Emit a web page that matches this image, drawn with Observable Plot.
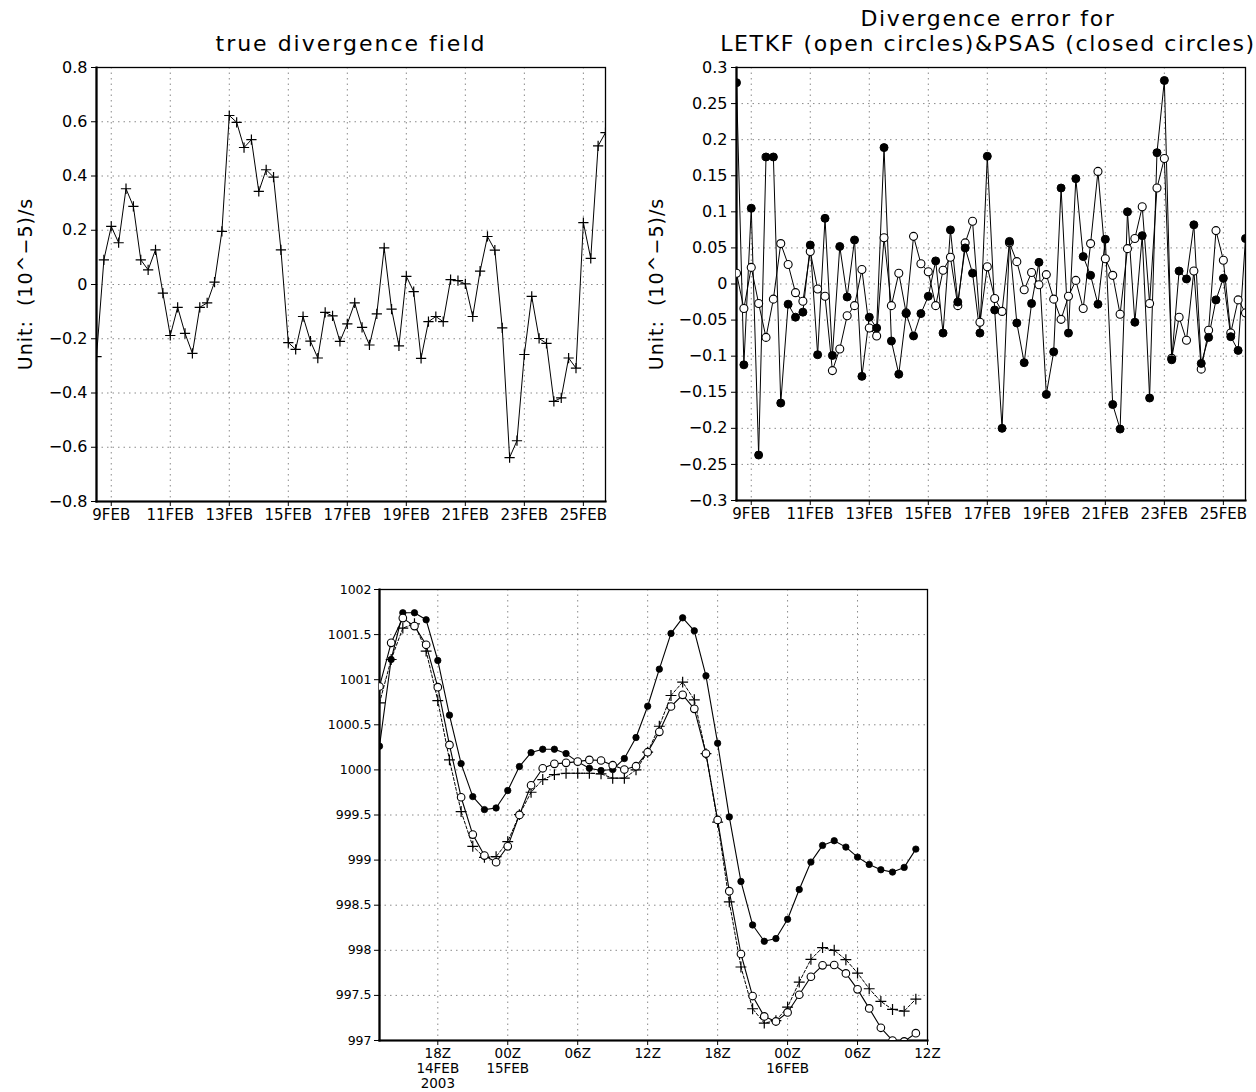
<!DOCTYPE html>
<html><head><meta charset="utf-8">
<script src="https://cdn.jsdelivr.net/npm/d3@7"></script>
<script src="https://cdn.jsdelivr.net/npm/@observablehq/plot@0.6"></script>
<style>
body{margin:0;background:#fff;width:1256px;height:1092px;position:relative;overflow:hidden;font-family:"DejaVu Sans",sans-serif;}
.panel{position:absolute;}
.title{position:absolute;text-align:center;font-size:22px;letter-spacing:1.6px;line-height:25px;color:#000;white-space:pre;transform:translateX(-50%);}
.ylab{position:absolute;font-size:19px;letter-spacing:1px;white-space:pre;color:#000;transform:translate(-50%,-50%) rotate(-90deg);}
</style></head><body>
<div id="p1" class="panel" style="left:0;top:0"></div>
<div id="p2" class="panel" style="left:630px;top:0"></div>
<div id="p3" class="panel" style="left:300px;top:570px"></div>
<div class="title" style="left:351px;top:31px;letter-spacing:2px">true divergence field</div>
<div class="title" style="left:988px;top:6px">Divergence error for
LETKF (open circles)&amp;PSAS (closed circles)</div>
<div class="ylab" style="left:25px;top:284px">Unit:  (10^−5)/s</div>
<div class="ylab" style="left:656px;top:284px">Unit:  (10^−5)/s</div>
<script>
// ---------- data ----------
const startTop = Date.UTC(2003, 1, 8, 12);   // 8FEB 12Z, 6-hourly samples
const endTop = Date.UTC(2003, 1, 25, 18);
const trueDivergence = [-0.266,0.091,0.214,0.154,0.353,0.288,0.091,0.054,0.128,-0.032,
 -0.188,-0.084,-0.180,-0.254,-0.084,-0.068,0.009,0.196,0.623,0.598,
 0.505,0.534,0.343,0.423,0.396,0.128,-0.214,-0.239,-0.118,-0.209,
 -0.271,-0.103,-0.116,-0.210,-0.145,-0.068,-0.158,-0.223,-0.108,0.135,
 -0.091,-0.226,0.030,-0.026,-0.272,-0.137,-0.118,-0.137,0.018,0.014,
 0.002,-0.118,0.049,0.177,0.127,-0.160,-0.638,-0.576,-0.258,-0.044,
 -0.199,-0.217,-0.431,-0.418,-0.271,-0.308,0.228,0.096,0.511,0.560];
const psasError = [0.279,-0.112,0.105,-0.237,0.176,0.176,-0.165,-0.028,-0.046,-0.039,
 0.054,-0.098,0.091,-0.099,0.052,-0.018,0.061,-0.128,-0.046,-0.061,
 0.189,-0.079,-0.125,-0.041,-0.072,-0.041,-0.017,0.032,-0.068,0.075,
 -0.025,0.050,0.015,-0.068,0.177,-0.036,-0.200,0.059,-0.054,-0.109,
 -0.027,0.030,-0.153,-0.094,0.133,-0.068,0.146,0.038,0.012,-0.028,
 0.062,-0.167,-0.201,0.100,-0.053,0.067,-0.158,0.182,0.282,-0.105,
 0.018,0.007,0.082,-0.110,-0.074,-0.022,0.008,-0.073,-0.092,0.063];
const letkfError = [0.015,-0.034,0.023,-0.027,-0.074,-0.021,0.056,0.027,-0.012,-0.024,
 0.045,-0.007,-0.017,-0.120,-0.090,-0.044,-0.030,0.020,-0.061,-0.072,
 0.064,-0.030,0.015,-0.040,0.066,0.028,0.017,-0.030,0.019,0.037,
 -0.030,0.057,0.087,-0.053,0.024,-0.020,-0.038,0.057,0.031,-0.008,
 0.016,-0.001,0.013,-0.021,-0.049,-0.017,0.005,-0.034,0.056,0.156,
 0.035,0.012,-0.042,0.049,0.063,0.107,-0.027,0.133,0.174,-0.103,
 -0.046,-0.078,0.018,-0.118,-0.064,0.074,0.033,-0.068,-0.022,-0.040];
const topTickDays = [9,11,13,15,17,19,21,23,25];
const topTickLabels = ["9FEB","11FEB","13FEB","15FEB","17FEB","19FEB","21FEB","23FEB","25FEB"];
const leftYTicks = [-0.8,-0.6,-0.4,-0.2,0,0.2,0.4,0.6,0.8];
const leftYLabels = ["−0.8","−0.6","−0.4","−0.2","0","0.2","0.4","0.6","0.8"];
const rightYTicks = [-0.3,-0.25,-0.2,-0.15,-0.1,-0.05,0,0.05,0.1,0.15,0.2,0.25,0.3];
const rightYLabels = ["−0.3","−0.25","−0.2","−0.15","−0.1","−0.05","0","0.05","0.1","0.15","0.2","0.25","0.3"];

const startBottom = Date.UTC(2003, 1, 14, 13);  // 14FEB 13Z, hourly samples
const endBottom = Date.UTC(2003, 1, 16, 12);
const pressClosed = [1000.263,1001.224,1001.742,1001.742,1001.664,1001.213,1000.607,1000.070,999.704,999.560,999.578,
 999.771,1000.037,1000.192,1000.229,1000.229,1000.181,1000.089,1000.018,999.993,1000.004,1000.126,1000.359,
 1000.706,1001.117,1001.513,1001.686,1001.542,1001.043,1000.296,999.479,998.763,998.281,998.100,998.130,
 998.344,998.674,998.978,999.163,999.215,999.144,999.033,998.952,998.893,998.867,998.919,999.122];
const pressOpen = [1000.925,1001.409,1001.683,1001.594,1001.387,1000.917,1000.277,999.697,999.283,999.050,998.976,
 999.153,999.501,999.830,1000.018,1000.067,1000.078,1000.092,1000.111,1000.104,1000.052,1000.004,1000.041,
 1000.196,1000.422,1000.703,1000.832,1000.677,1000.181,999.445,998.656,997.959,997.493,997.267,997.211,
 997.311,997.507,997.707,997.833,997.837,997.744,997.567,997.356,997.141,997.000,996.990,997.081];
const pressPlus = [1000.743,1001.224,1001.572,1001.620,1001.317,1000.769,1000.111,999.538,999.153,999.031,999.038,
 999.205,999.504,999.752,999.893,999.948,999.963,999.963,999.963,999.956,999.908,999.908,1000.000,
 1000.196,1000.484,1000.825,1000.973,1000.777,1000.180,999.420,998.537,997.815,997.352,997.193,997.220,
 997.370,997.648,997.900,998.030,998.000,997.896,997.748,997.574,997.433,997.344,997.326,997.459];
const bottomTickHours = [[14,18],[15,0],[15,6],[15,12],[15,18],[16,0],[16,6],[16,12]];
const bottomTickLabels = ["18Z\n14FEB\n2003","00Z\n15FEB","06Z","12Z","18Z","00Z\n16FEB","06Z","12Z"];
const bottomYTicks = [997,997.5,998,998.5,999,999.5,1000,1000.5,1001,1001.5,1002];
const bottomYLabels = ["997","997.5","998","998.5","999","999.5","1000","1000.5","1001","1001.5","1002"];

// ---------- helpers ----------
const H = 3600e3;
const topTicks = topTickDays.map(d => new Date(Date.UTC(2003, 1, d)));
const labelOf = (ticks, labels) => d => labels[ticks.findIndex(t => Math.abs(+t - +d) < 1e-6)];
const gridStyle = {stroke: "#8a8a8a", strokeOpacity: 1, strokeWidth: 1, strokeDasharray: "1.5,4"};
const topSeries = trueDivergence.map((v, i) => ({t: new Date(startTop + i * 6 * H), v}));
const errSeries = psasError.map((v, i) => ({t: new Date(startTop + i * 6 * H), psas: v, letkf: letkfError[i]}));

function topAxes(yTicks, yLabels) {
  return [
    Plot.gridX(topTicks, gridStyle),
    Plot.gridY(yTicks, gridStyle),
    Plot.axisX(topTicks, {tickSize: 5, tickPadding: 3, tickFormat: labelOf(topTicks, topTickLabels), label: null, fontSize: 15, letterSpacing: 0.5}),
    Plot.axisY(yTicks, {tickSize: 5, tickPadding: 4, tickFormat: labelOf(yTicks, yLabels), label: null, fontSize: 16, letterSpacing: 0.5}),
    Plot.frame({stroke: "#000", strokeWidth: 1.3}),
    Plot.frame({anchor: "left", stroke: "#000", strokeWidth: 2.2}),
    Plot.frame({anchor: "bottom", stroke: "#000", strokeWidth: 2.2})
  ];
}
const baseStyle = {fontFamily: "DejaVu Sans", color: "#000", background: "transparent", overflow: "visible"};

// ---------- top-left ----------
document.getElementById("p1").append(Plot.plot({
  width: 620, height: 530, marginLeft: 96, marginRight: 15, marginTop: 67, marginBottom: 29,
  style: baseStyle,
  x: {type: "utc", domain: [new Date(startTop), new Date(endTop)]},
  y: {domain: [-0.8, 0.8]},
  marks: [
    ...topAxes(leftYTicks, leftYLabels),
    Plot.line(topSeries, {x: "t", y: "v", stroke: "#000", strokeWidth: 1, clip: true}),
    Plot.dot(topSeries, {x: "t", y: "v", symbol: "plus", r: 3.4, stroke: "#000", strokeWidth: 1.2, clip: true})
  ]
}));

// ---------- top-right ----------
document.getElementById("p2").append(Plot.plot({
  width: 626, height: 530, marginLeft: 106, marginRight: 11, marginTop: 67, marginBottom: 30,
  style: baseStyle,
  x: {type: "utc", domain: [new Date(startTop), new Date(endTop)]},
  y: {domain: [-0.3, 0.3]},
  marks: [
    ...topAxes(rightYTicks, rightYLabels),
    Plot.line(errSeries, {x: "t", y: "letkf", stroke: "#000", strokeWidth: 1, clip: true}),
    Plot.line(errSeries, {x: "t", y: "psas", stroke: "#000", strokeWidth: 1, clip: true}),
    Plot.dot(errSeries, {x: "t", y: "letkf", r: 4, fill: "#fff", stroke: "#000", strokeWidth: 1.1, clip: true}),
    Plot.dot(errSeries, {x: "t", y: "psas", r: 4, fill: "#000", stroke: "#000", strokeWidth: 1, clip: true})
  ]
}));

// ---------- bottom ----------
const bottomTicks = bottomTickHours.map(([d, h]) => new Date(Date.UTC(2003, 1, d, h)));
const pressSeries = pressClosed.map((v, i) => ({t: new Date(startBottom + i * H), closed: v, open: pressOpen[i], plus: pressPlus[i]}));
document.getElementById("p3").append(Plot.plot({
  width: 640, height: 522, marginLeft: 79, marginRight: 13, marginTop: 19, marginBottom: 52,
  style: baseStyle,
  x: {type: "utc", domain: [new Date(startBottom), new Date(endBottom)]},
  y: {domain: [997, 1002]},
  marks: [
    Plot.gridX(bottomTicks, gridStyle),
    Plot.gridY(bottomYTicks, gridStyle),
    Plot.axisX(bottomTicks, {tickSize: 5, tickPadding: 2, tickFormat: labelOf(bottomTicks, bottomTickLabels), label: null, fontSize: 13.5, lineHeight: 1.1}),
    Plot.axisY(bottomYTicks, {tickSize: 5, tickPadding: 3, tickFormat: labelOf(bottomYTicks, bottomYLabels), label: null, fontSize: 12.5}),
    Plot.frame({stroke: "#000", strokeWidth: 1.3}),
    Plot.frame({anchor: "left", stroke: "#000", strokeWidth: 2.2}),
    Plot.frame({anchor: "bottom", stroke: "#000", strokeWidth: 2.2}),
    Plot.line(pressSeries, {x: "t", y: "plus", stroke: "#000", strokeWidth: 1, strokeDasharray: "3,2", clip: true}),
    Plot.line(pressSeries, {x: "t", y: "closed", stroke: "#000", strokeWidth: 1.1, clip: true}),
    Plot.line(pressSeries, {x: "t", y: "open", stroke: "#000", strokeWidth: 1.1, clip: true}),
    Plot.dot(pressSeries, {x: "t", y: "plus", symbol: "plus", r: 3.6, stroke: "#000", strokeWidth: 1.2, clip: true}),
    Plot.dot(pressSeries, {x: "t", y: "closed", r: 3.2, fill: "#000", stroke: "#000", strokeWidth: 0.8, clip: true}),
    Plot.dot(pressSeries, {x: "t", y: "open", r: 3.8, fill: "#fff", stroke: "#000", strokeWidth: 1.1, clip: true})
  ]
}));
</script>
</body></html>
